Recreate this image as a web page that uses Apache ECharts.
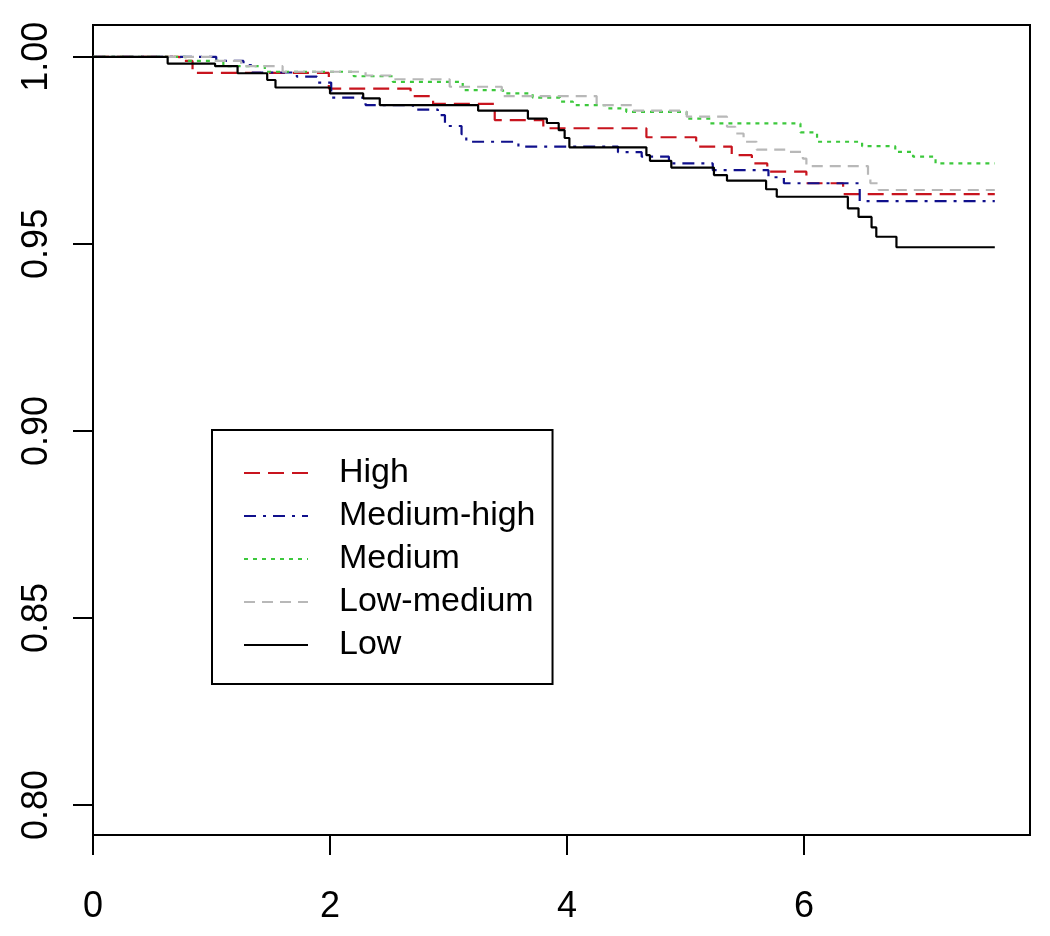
<!DOCTYPE html>
<html>
<head>
<meta charset="utf-8">
<script src="https://cdn.jsdelivr.net/npm/echarts@6/dist/echarts.min.js"></script>
<style>html,body{margin:0;padding:0;background:#fff;}#c{width:1050px;height:936px;}</style>
</head>
<body>
<div id="c"></div>
<script>
var seriesNames = ['High', 'Medium-high', 'Medium', 'Low-medium', 'Low'];
var xTicks = [0, 2, 4, 6];
var yTicks = [0.80, 0.85, 0.90, 0.95, 1.00];

var highT = [0, 0.73, 0.84, 1.99, 2.68, 2.87, 3.39, 3.80, 4.67, 5.09, 5.39, 5.56, 5.69, 6.02, 6.33, 7.61];
var highS = [1, 0.9989, 0.9957, 0.9915, 0.9895, 0.9874, 0.9831, 0.9809, 0.9785, 0.9760, 0.9737, 0.9715, 0.9693, 0.9662, 0.9633, 0.9633];

var medHighT = [0, 1.04, 1.27, 1.34, 1.72, 1.89, 2.01, 2.30, 2.70, 2.91, 2.97, 3.11, 3.15, 3.59, 4.43, 4.63, 4.86, 5.23, 5.70, 5.83, 6.47, 7.61];
var medHighS = [1, 0.9989, 0.9978, 0.9958, 0.9947, 0.9931, 0.9891, 0.9871, 0.9859, 0.9844, 0.9815, 0.9793, 0.9773, 0.9760, 0.9745, 0.9733, 0.9715, 0.9697, 0.9678, 0.9662, 0.9614, 0.9614];

var mediumT = [0, 0.78, 1.10, 1.45, 2.20, 2.53, 3.12, 3.46, 3.71, 3.94, 4.05, 4.33, 4.50, 5.01, 5.21, 5.97, 6.11, 6.49, 6.77, 6.92, 7.11, 7.61];
var mediumS = [1, 0.9989, 0.9975, 0.9960, 0.9948, 0.9933, 0.9911, 0.9902, 0.9891, 0.9880, 0.9871, 0.9862, 0.9853, 0.9835, 0.9822, 0.9798, 0.9773, 0.9761, 0.9746, 0.9733, 0.9715, 0.9715];

var lowMedT = [0, 1.00, 1.25, 1.60, 2.30, 2.55, 3.01, 3.45, 4.25, 4.55, 5.01, 5.35, 5.42, 5.49, 5.60, 5.85, 5.99, 6.02, 6.54, 6.56, 6.63, 7.61];
var lowMedS = [1, 0.9989, 0.9975, 0.9960, 0.9950, 0.9940, 0.9920, 0.9895, 0.9871, 0.9856, 0.9840, 0.9813, 0.9795, 0.9773, 0.9752, 0.9746, 0.9728, 0.9708, 0.9675, 0.9662, 0.9644, 0.9644];

var lowT = [0, 0.63, 1.03, 1.22, 1.47, 1.54, 2.00, 2.28, 2.42, 3.25, 3.67, 3.83, 3.93, 3.98, 4.02, 4.67, 4.70, 4.88, 5.24, 5.35, 5.68, 5.77, 6.37, 6.46, 6.57, 6.61, 6.78, 7.61];
var lowS = [1, 0.9982, 0.9975, 0.9956, 0.9938, 0.9918, 0.9902, 0.9889, 0.9871, 0.9856, 0.9835, 0.9823, 0.9804, 0.9783, 0.9758, 0.9737, 0.9722, 0.9704, 0.9684, 0.9669, 0.9646, 0.9626, 0.9595, 0.9572, 0.9544, 0.9519, 0.9491, 0.9491];

function pairs(t, s) { return t.map(function (v, i) { return [v, s[i]]; }); }

var dataSets = [pairs(highT, highS), pairs(medHighT, medHighS), pairs(mediumT, mediumS), pairs(lowMedT, lowMedS), pairs(lowT, lowS)];
var colors = ['#C8141E', '#10108C', '#3CC83C', '#B8B8B8', '#000000'];
var dashes = [[16, 8], [12, 7, 3, 7], [4, 5], [11, 7], 'solid'];

var font = 'Liberation Sans, Arial, sans-serif';
var chart = echarts.init(document.getElementById('c'), null, {renderer: 'canvas'});
var option = {
  animation: false,
  backgroundColor: '#fff',
  grid: {left: 93, top: 25, right: 20, bottom: 101, show: true, borderColor: '#000', borderWidth: 2, backgroundColor: 'transparent'},
  xAxis: {
    type: 'value', min: 0, max: 7.907,
    axisLine: {show: true, lineStyle: {color: '#000', width: 2}},
    axisTick: {show: true, length: 20, inside: false, lineStyle: {color: '#000', width: 2}, customValues: xTicks},
    axisLabel: {show: true, customValues: xTicks, color: '#000', fontSize: 36, fontFamily: font, margin: 54},
    splitLine: {show: false}
  },
  yAxis: {
    type: 'value', min: 0.792, max: 1.0085,
    axisLine: {show: true, lineStyle: {color: '#000', width: 2}},
    axisTick: {show: true, length: 20, inside: false, lineStyle: {color: '#000', width: 2}, customValues: yTicks},
    axisLabel: {show: true, customValues: yTicks, rotate: 90, color: '#000', fontSize: 36, fontFamily: font, margin: 38,
      formatter: function (v) { return v.toFixed(2); }},
    splitLine: {show: false}
  },
  legend: {
    show: true, orient: 'vertical', left: 212, top: 430,
    data: seriesNames,
    borderColor: '#000', borderWidth: 2, borderRadius: 0,
    padding: [26, 17, 22, 31],
    itemWidth: 64, itemHeight: 14, itemGap: 9,
    itemStyle: {opacity: 0},
    formatter: '{a|{name}}',
    textStyle: {color: '#000', fontSize: 34, fontFamily: font, lineHeight: 34,
      rich: {a: {fontSize: 34, fontFamily: font, color: '#000', lineHeight: 34, padding: [0, 0, 0, 26]}}}
  },
  series: seriesNames.map(function (n, i) {
    return {
      name: n, type: 'line', step: 'end', data: dataSets[i],
      symbol: 'none', showSymbol: false,
      color: colors[i],
      lineStyle: {color: colors[i], width: 2.2, type: dashes[i]},
      itemStyle: {color: colors[i]},
      emphasis: {disabled: true}
    };
  })
};
chart.setOption(option);
</script>
</body>
</html>
